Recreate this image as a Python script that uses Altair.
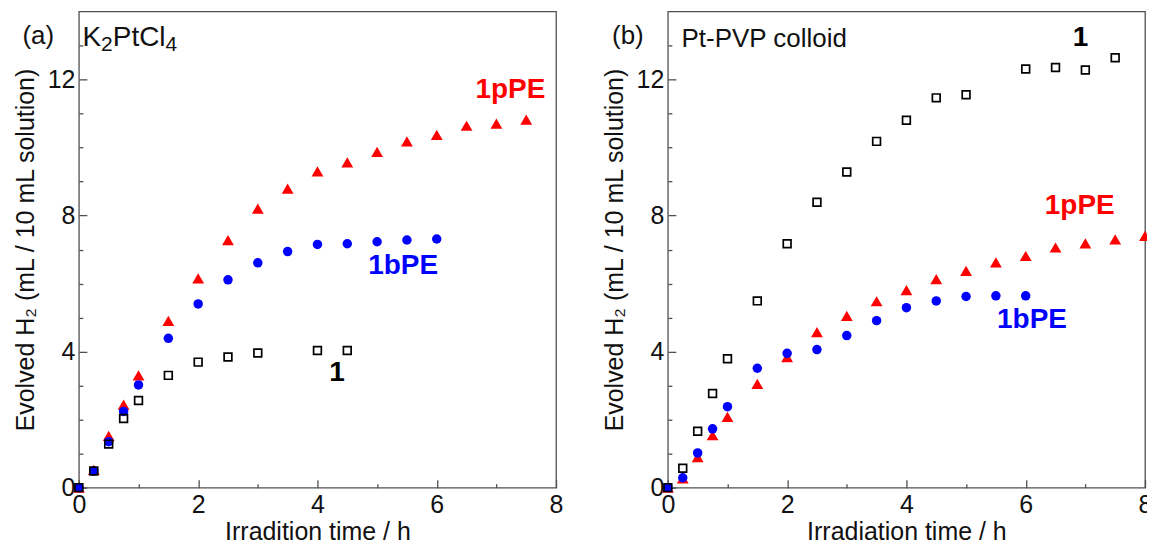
import altair as alt
import pandas as pd

FONT = "Liberation Sans"
RED = "#ff0000"
BLUE = "#0000ff"
BLACK = "#000000"
FRAME = "#505050"
TXT = "#111111"

# ---------------- panel (a): K2PtCl4 ----------------
a_x_1 = [0, 0.25, 0.5, 0.75, 1, 1.5, 2, 2.5, 3, 4, 4.5]
a_y_1 = [0, 0.49, 1.28, 2.03, 2.56, 3.30, 3.69, 3.84, 3.96, 4.03, 4.03]
a_x_bpe = [0, 0.25, 0.5, 0.75, 1, 1.5, 2, 2.5, 3, 3.5, 4, 4.5, 5, 5.5, 6]
a_y_bpe = [0, 0.49, 1.35, 2.24, 3.02, 4.39, 5.40, 6.11, 6.61, 6.94, 7.15, 7.17, 7.23, 7.28, 7.31]
a_x_ppe = [0, 0.25, 0.5, 0.75, 1, 1.5, 2, 2.5, 3, 3.5, 4, 4.5, 5, 5.5, 6, 6.5, 7, 7.5]
a_y_ppe = [0, 0.52, 1.52, 2.44, 3.30, 4.90, 6.15, 7.28, 8.20, 8.79, 9.30, 9.56, 9.87, 10.18, 10.37, 10.64, 10.70, 10.82]

# ---------------- panel (b): Pt-PVP colloid ----------------
b_x_1 = [0, 0.25, 0.5, 0.75, 1, 1.5, 2, 2.5, 3, 3.5, 4, 4.5, 5, 6, 6.5, 7, 7.5]
b_y_1 = [0, 0.57, 1.66, 2.77, 3.79, 5.49, 7.17, 8.39, 9.28, 10.18, 10.80, 11.46, 11.55, 12.31, 12.35, 12.28, 12.64]
b_x_bpe = [0, 0.25, 0.5, 0.75, 1, 1.5, 2, 2.5, 3, 3.5, 4, 4.5, 5, 5.5, 6]
b_y_bpe = [0, 0.29, 1.02, 1.73, 2.38, 3.51, 3.95, 4.06, 4.47, 4.91, 5.29, 5.49, 5.62, 5.64, 5.64]
b_x_ppe = [0, 0.25, 0.5, 0.75, 1, 1.5, 2, 2.5, 3, 3.5, 4, 4.5, 5, 5.5, 6, 6.5, 7, 7.5, 8]
b_y_ppe = [0, 0.27, 0.90, 1.54, 2.08, 3.05, 3.84, 4.57, 5.05, 5.48, 5.81, 6.13, 6.37, 6.62, 6.81, 7.06, 7.18, 7.30, 7.40]

# axis ticks
x_major = [0, 2, 4, 6, 8]
x_minor = [1, 3, 5, 7]
y_major = [0, 4, 8, 12]
y_minor = [1, 2, 3, 5, 6, 7, 9, 10, 11, 13]

y_title = "Evolved H\u2082 (mL / 10 mL solution)"
a_x_title = "Irradition time / h"
b_x_title = "Irradiation time / h"

# annotations (text, x, y in data units)
a_note_text = ["(a)", "1pPE", "1bPE", "1"]
a_note_x = [-0.68, 6.65, 4.85, 4.33]
a_note_y = [13.28, 11.70, 6.51, 3.37]
b_note_text = ["(b)", "Pt-PVP colloid", "1", "1pPE", "1bPE"]
b_note_x = [-0.67, 0.23, 6.92, 6.32, 5.52]
b_note_y = [13.28, 13.20, 13.22, 8.27, 4.93]
# "K2PtCl4" written as pieces: (text, is_subscript)
salt_parts = [("K", False), ("2", True), ("PtCl", False), ("4", True)]
salt_x = 0.06
salt_y = 13.22

XS = alt.Scale(domain=[0, 8], nice=False, zero=False)
YS = alt.Scale(domain=[0, 14], nice=False, zero=False)


def df(xs, ys):
    return pd.DataFrame({"t": xs, "v": ys})


def x_major_axis(title):
    return alt.Axis(orient="bottom", values=x_major, tickSize=8, offset=-8, domain=False,
                    grid=False, labelPadding=5, titlePadding=2, title=title,
                    labelFlush=False, labelOverlap=False, format="d")


def y_major_axis():
    return alt.Axis(orient="left", values=y_major, tickSize=8, offset=-8, domain=False,
                    grid=False, labelPadding=4, titlePadding=9, title=y_title,
                    labelFlush=False, labelOverlap=False, format="d")


x_minor_axis = alt.Axis(orient="bottom", values=x_minor, tickSize=4, offset=-4, domain=False,
                        grid=False, labels=False, title=None)
y_minor_axis = alt.Axis(orient="left", values=y_minor, tickSize=4, offset=-4, domain=False,
                        grid=False, labels=False, title=None)


def note(text, x, y, align, size, weight, color, dx=0, dy=0):
    d = pd.DataFrame({"t": [x], "v": [y], "s": [text]})
    return alt.Chart(d).mark_text(align=align, baseline="middle", font=FONT, fontSize=size,
                                  fontWeight=weight, color=color, dx=dx, dy=dy).encode(
        x=alt.X("t:Q", scale=XS, axis=None),
        y=alt.Y("v:Q", scale=YS, axis=None),
        text="s:N",
    )


def salt_notes():
    # approximate Arial advance widths (em) to chain the pieces
    adv = {"K": 0.667, "P": 0.667, "t": 0.278, "C": 0.722, "l": 0.222, "2": 0.556, "4": 0.556}
    out = []
    off = 0.0
    for txt, sub in salt_parts:
        size = 21 if sub else 28
        out.append(note(txt, salt_x, salt_y, "left", size, "normal", TXT,
                        dx=off, dy=7 if sub else 0))
        off += sum(adv[c] for c in txt) * size
    return out


def panel(x1, y1, xb, yb, xp, yp, xtitle, notes):
    tri = alt.Chart(df(xp, yp)).mark_point(shape="triangle-up", filled=True, size=140,
                                            color=RED, opacity=1).encode(
        x=alt.X("t:Q", scale=XS, axis=x_major_axis(xtitle)),
        y=alt.Y("v:Q", scale=YS, axis=y_major_axis()),
    )
    circ = alt.Chart(df(xb, yb)).mark_point(shape="circle", filled=True, size=90,
                                             color=BLUE, opacity=1).encode(
        x=alt.X("t:Q", scale=XS, axis=x_minor_axis),
        y=alt.Y("v:Q", scale=YS, axis=y_minor_axis),
    )
    sq = alt.Chart(df(x1, y1)).mark_point(shape="square", filled=False, size=60,
                                           color=BLACK, strokeWidth=1.7, opacity=1).encode(
        x=alt.X("t:Q", scale=XS, axis=None),
        y=alt.Y("v:Q", scale=YS, axis=None),
    )
    layers = [tri, circ, sq] + notes
    return alt.layer(*layers).resolve_axis(x="independent", y="independent").properties(
        width=478, height=477)


a_styles = [("center", 26, "normal", TXT),
            ("left", 28, "bold", RED), ("left", 28, "bold", BLUE), ("center", 28, "bold", BLACK)]
b_styles = [("center", 26, "normal", TXT), ("left", 26, "normal", TXT),
            ("center", 28, "bold", BLACK), ("left", 28, "bold", RED), ("left", 28, "bold", BLUE)]

a_notes = [note(t, x, y, *s) for t, x, y, s in zip(a_note_text, a_note_x, a_note_y, a_styles)]
a_notes += salt_notes()
b_notes = [note(t, x, y, *s) for t, x, y, s in zip(b_note_text, b_note_x, b_note_y, b_styles)]

pa = panel(a_x_1, a_y_1, a_x_bpe, a_y_bpe, a_x_ppe, a_y_ppe, a_x_title, a_notes)
pb = panel(b_x_1, b_y_1, b_x_bpe, b_y_bpe, b_x_ppe, b_y_ppe, b_x_title, b_notes)

chart = alt.hconcat(pa, pb, spacing=112, bounds="flush").properties(
    padding={"left": 4, "top": 2, "right": -6, "bottom": 0}
).configure_view(stroke=FRAME, strokeWidth=1.3).configure_axis(
    labelFont=FONT, titleFont=FONT, labelFontSize=25, titleFontSize=25,
    labelColor=TXT, titleColor=TXT, titleFontWeight="normal",
    tickColor=FRAME, tickWidth=1.3,
)

chart.save("out.html", embed_options={"renderer": "svg", "actions": False})
